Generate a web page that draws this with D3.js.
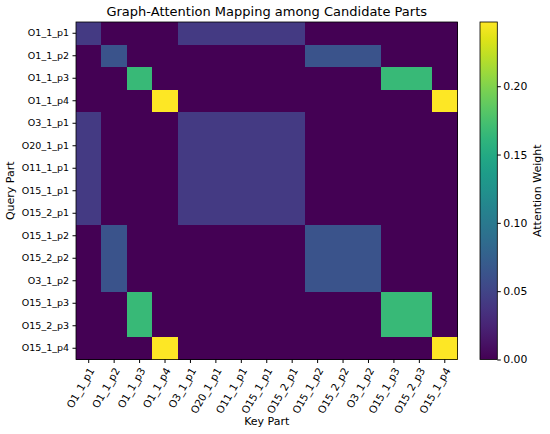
<!DOCTYPE html>
<html>
<head>
<meta charset="utf-8">
<script src="https://cdn.jsdelivr.net/npm/d3@7"></script>
<style>
body { margin: 0; background: #fff; }
text { font-family: "DejaVu Sans", sans-serif; fill: #000; }
</style>
</head>
<body>
<svg id="mainSvg" width="550" height="434"></svg>
<script>
var parts = ["O1_1_p1", "O1_1_p2", "O1_1_p3", "O1_1_p4", "O3_1_p1", "O20_1_p1", "O11_1_p1",
	"O15_1_p1", "O15_2_p1", "O15_1_p2", "O15_2_p2", "O3_1_p2", "O15_1_p3", "O15_2_p3", "O15_1_p4"];
// attention weight per query row (key columns in the same order as parts)
var weights = [
	[0.042, 0, 0, 0, 0.042, 0.042, 0.042, 0.042, 0.042, 0, 0, 0, 0, 0, 0],
	[0, 0.063, 0, 0, 0, 0, 0, 0, 0, 0.063, 0.063, 0.063, 0, 0, 0],
	[0, 0, 0.166, 0, 0, 0, 0, 0, 0, 0, 0, 0, 0.166, 0.166, 0],
	[0, 0, 0, 0.247, 0, 0, 0, 0, 0, 0, 0, 0, 0, 0, 0.247],
	[0.042, 0, 0, 0, 0.042, 0.042, 0.042, 0.042, 0.042, 0, 0, 0, 0, 0, 0],
	[0.042, 0, 0, 0, 0.042, 0.042, 0.042, 0.042, 0.042, 0, 0, 0, 0, 0, 0],
	[0.042, 0, 0, 0, 0.042, 0.042, 0.042, 0.042, 0.042, 0, 0, 0, 0, 0, 0],
	[0.042, 0, 0, 0, 0.042, 0.042, 0.042, 0.042, 0.042, 0, 0, 0, 0, 0, 0],
	[0.042, 0, 0, 0, 0.042, 0.042, 0.042, 0.042, 0.042, 0, 0, 0, 0, 0, 0],
	[0, 0.063, 0, 0, 0, 0, 0, 0, 0, 0.063, 0.063, 0.063, 0, 0, 0],
	[0, 0.063, 0, 0, 0, 0, 0, 0, 0, 0.063, 0.063, 0.063, 0, 0, 0],
	[0, 0.063, 0, 0, 0, 0, 0, 0, 0, 0.063, 0.063, 0.063, 0, 0, 0],
	[0, 0, 0.166, 0, 0, 0, 0, 0, 0, 0, 0, 0, 0.166, 0.166, 0],
	[0, 0, 0.166, 0, 0, 0, 0, 0, 0, 0, 0, 0, 0.166, 0.166, 0],
	[0, 0, 0, 0.247, 0, 0, 0, 0, 0, 0, 0, 0, 0, 0, 0.247]
];
var cbTicks = [0, 0.05, 0.10, 0.15, 0.20];
var vmax = 0.247;

var svg = d3.select("#mainSvg");
var pLeft = 76, pTop = 22, pRight = 457.5, pBottom = 359.5;

var x = d3.scaleBand().domain(parts).range([pLeft, pRight]);
var y = d3.scaleBand().domain(parts).range([pTop, pBottom]);
var color = d3.scaleSequential(d3.interpolateViridis).domain([0, vmax]);

var cells = [];
for(var r = 0; r < parts.length; r++)
	for(var c = 0; c < parts.length; c++)
		cells.push({q: parts[r], k: parts[c], v: weights[r][c]});

svg.append("g").attr("shape-rendering", "crispEdges")
	.selectAll("rect").data(cells).enter().append("rect")
	.attr("x", function(d) { return x(d.k); })
	.attr("y", function(d) { return y(d.q); })
	.attr("width", x.bandwidth() + 0.5)
	.attr("height", y.bandwidth() + 0.5)
	.attr("fill", function(d) { return color(d.v); });

svg.append("rect").attr("x", pLeft).attr("y", pTop)
	.attr("width", pRight - pLeft).attr("height", pBottom - pTop)
	.attr("fill", "none").attr("stroke", "#000").attr("stroke-width", 0.8);

// axes
var xAxis = svg.append("g").attr("transform", "translate(0," + pBottom + ")")
	.call(d3.axisBottom(x).tickSize(3.5).tickPadding(2));
xAxis.select(".domain").remove();
xAxis.selectAll("text")
	.attr("font-size", "10.3px")
	.attr("text-anchor", "end")
	.attr("dy", "0.35em")
	.attr("y", 0)
	.attr("transform", "translate(3,9) rotate(-60)");

var yAxis = svg.append("g").attr("transform", "translate(" + pLeft + ",0)")
	.call(d3.axisLeft(y).tickSize(3.5).tickPadding(3.5));
yAxis.select(".domain").remove();
yAxis.selectAll("text").attr("font-size", "9.5px");

// titles
svg.append("text").attr("x", (pLeft + pRight) / 2).attr("y", 16)
	.attr("text-anchor", "middle").attr("font-size", "13px")
	.text("Graph-Attention Mapping among Candidate Parts");
svg.append("text").attr("x", (pLeft + pRight) / 2).attr("y", 425)
	.attr("text-anchor", "middle").attr("font-size", "11px").text("Key Part");
svg.append("text").attr("transform", "translate(14," + (pTop + pBottom) / 2 + ") rotate(-90)")
	.attr("text-anchor", "middle").attr("font-size", "11px").text("Query Part");

// colorbar
var cbX = 480, cbW = 17.3;
var cbScale = d3.scaleLinear().domain([0, vmax]).range([pBottom, pTop]);
var grad = svg.append("defs").append("linearGradient").attr("id", "cbGrad")
	.attr("x1", 0).attr("y1", 1).attr("x2", 0).attr("y2", 0);
grad.selectAll("stop").data(d3.range(0, 1.0001, 0.05)).enter().append("stop")
	.attr("offset", function(d) { return d; })
	.attr("stop-color", function(d) { return d3.interpolateViridis(d); });
svg.append("rect").attr("x", cbX).attr("y", pTop).attr("width", cbW).attr("height", pBottom - pTop)
	.attr("fill", "url(#cbGrad)").attr("stroke", "#000").attr("stroke-width", 0.8);
var cbAxis = svg.append("g").attr("transform", "translate(" + (cbX + cbW) + ",0)")
	.call(d3.axisRight(cbScale).tickValues(cbTicks).tickFormat(d3.format(".2f")).tickSize(3.5).tickPadding(2.5));
cbAxis.select(".domain").remove();
cbAxis.selectAll("text").attr("font-size", "10.8px");
svg.append("text").attr("transform", "translate(541," + (pTop + pBottom) / 2 + ") rotate(-90)")
	.attr("text-anchor", "middle").attr("font-size", "11px").text("Attention Weight");
</script>
</body>
</html>
